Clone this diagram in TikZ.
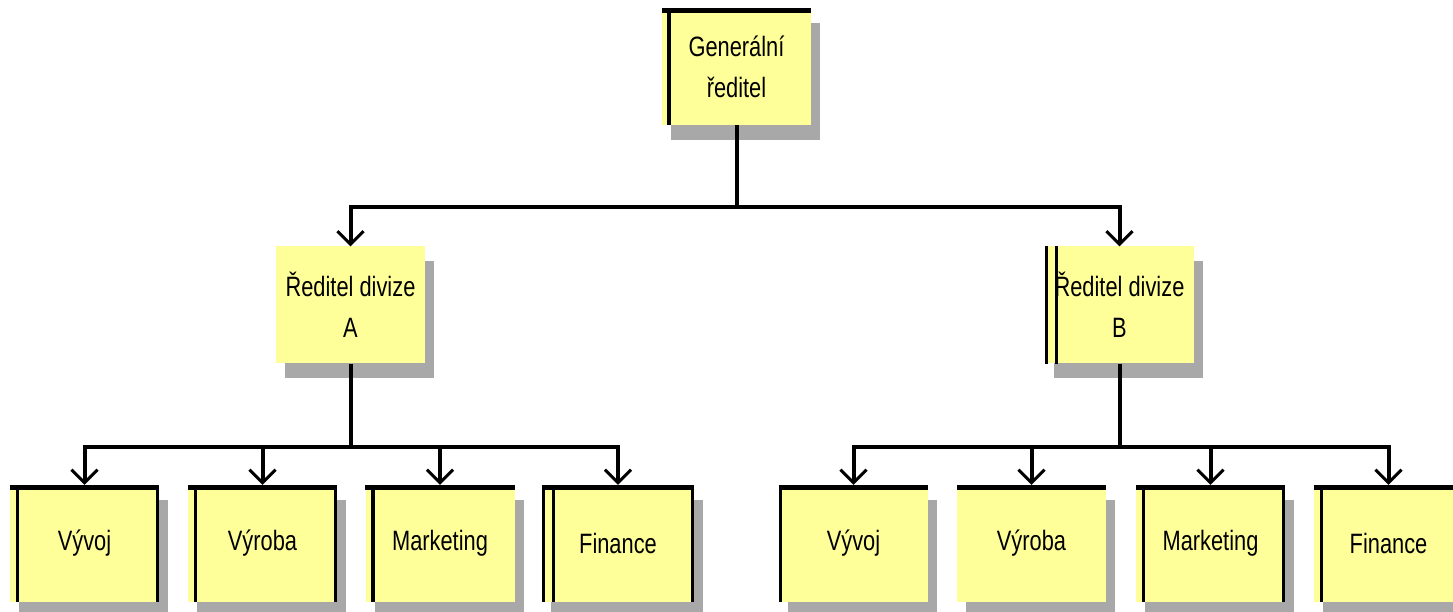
\documentclass[tikz,border=0pt]{standalone}
\usepackage{fontspec}
\setmainfont{Liberation Sans}[FakeStretch=0.78]
\usetikzlibrary{arrows.meta,shadows}
\definecolor{boxyellow}{HTML}{FFFF99}
\definecolor{shadowgray}{HTML}{A8A8A8}
\begin{document}
\begin{tikzpicture}[x=1pt,y=1pt,
  box/.style={fill=boxyellow, minimum width=149pt, minimum height=117pt, inner sep=0pt,
    align=center, font=\fontsize{28}{41}\selectfont,
    general shadow={fill=shadowgray, shadow xshift=9pt, shadow yshift=-15pt}},
  conn/.style={line width=4pt},
  arr/.style={conn, -{Straight Barb[length=13pt,width=26pt,line width=3pt]}},
  topedge/.style={line width=5pt},
  sideedge/.style={line width=3.5pt}]
\useasboundingbox (0,0) rectangle (1453,612);
% nodes
\node[box] (gen) at (736.5,545.5) {Generální\\ředitel};
\node[box] (divA) at (350.5,307) {Ředitel divize\\A};
\node[box] (divB) at (1119.5,307) {Ředitel divize\\B};
\node[box] (a1) at (84.5,68.5) {Vývoj};
\node[box] (a2) at (262.5,68.5) {Výroba};
\node[box] (a3) at (440,68.5) {Marketing};
\node[box, minimum width=152pt] (a4) at (618,68.5) {Finance};
\node[box] (b1) at (853.5,68.5) {Vývoj};
\node[box] (b2) at (1031.5,68.5) {Výroba};
\node[box] (b3) at (1210.5,68.5) {Marketing};
\node[box] (b4) at (1388.5,68.5) {Finance};
% box edge lines
\draw[topedge] ([yshift=-2.5pt]gen.north west) -- ([yshift=-2.5pt]gen.north east);
\draw[sideedge] ([xshift=7pt,yshift=-5pt]gen.north west) -- ([xshift=7pt]gen.south west);
\draw[sideedge] ([xshift=1.5pt]divB.north west) -- ([xshift=1.5pt]divB.south west);
\draw[sideedge] ([xshift=11.5pt]divB.north west) -- ([xshift=11.5pt]divB.south west);
\foreach \n in {a1,a2,a3,a4,b1,b2,b3,b4}{
  \draw[topedge] ([yshift=-2.5pt]\n.north west) -- ([yshift=-2.5pt]\n.north east);
}
\foreach \n in {a1,a2,a3,b3,b4}{
  \draw[sideedge] ([xshift=7.5pt,yshift=-5pt]\n.north west) -- ([xshift=7.5pt]\n.south west);
}
\draw[sideedge] ([xshift=1.5pt]a4.north west) -- ([xshift=1.5pt]a4.south west);
\draw[sideedge] ([xshift=11.5pt,yshift=-5pt]a4.north west) -- ([xshift=11.5pt]a4.south west);
\draw[sideedge] ([xshift=1.5pt]b1.north west) -- ([xshift=1.5pt]b1.south west);
\foreach \n in {a1,a2,a4,b3}{
  \draw[sideedge] ([xshift=-1.5pt]\n.north east) -- ([xshift=-1.5pt]\n.south east);
}
% connectors
\coordinate (busT) at (736.5,405);
\coordinate (busA) at (350.5,165);
\coordinate (busB) at (1119.5,165);
\draw[conn] (gen.south) -- (busT);
\draw[arr] (busT) -| (divA.north);
\draw[arr] (busT) -| (divB.north);
\draw[conn] (divA.south) -- (busA);
\draw[conn] (divB.south) -- (busB);
\foreach \n in {a1,a2,a3,a4}{ \draw[arr] (busA) -| (\n.north); }
\foreach \n in {b1,b2,b3,b4}{ \draw[arr] (busB) -| (\n.north); }
\end{tikzpicture}
\end{document}
